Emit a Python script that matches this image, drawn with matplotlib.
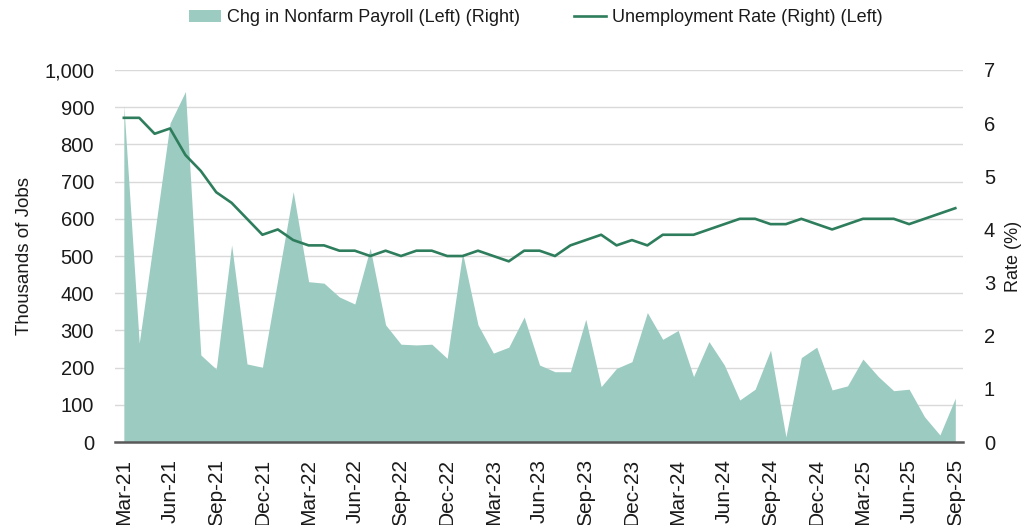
import matplotlib
matplotlib.use("Agg")
import matplotlib.pyplot as plt
from matplotlib.ticker import FuncFormatter
from matplotlib.patches import Patch
from matplotlib.lines import Line2D
import pandas as pd

months = list(pd.date_range("2021-03-01", periods=55, freq="MS").strftime("%b-%y"))

payroll = [905, 266, 560, 857, 942, 234, 196, 530, 210, 201,
           437, 673, 431, 427, 390, 371, 521, 315, 263, 261,
           263, 225, 508, 315, 239, 255, 336, 207, 189, 189,
           330, 149, 198, 216, 348, 276, 300, 176, 270, 207,
           113, 142, 247, 14, 227, 255, 140, 151, 223, 176,
           138, 142, 68, 19, 118]

unemployment = [6.1, 6.1, 5.8, 5.9, 5.4, 5.1, 4.7, 4.5, 4.2, 3.9,
                4.0, 3.8, 3.7, 3.7, 3.6, 3.6, 3.5, 3.6, 3.5, 3.6,
                3.6, 3.5, 3.5, 3.6, 3.5, 3.4, 3.6, 3.6, 3.5, 3.7,
                3.8, 3.9, 3.7, 3.8, 3.7, 3.9, 3.9, 3.9, 4.0, 4.1,
                4.2, 4.2, 4.1, 4.1, 4.2, 4.1, 4.0, 4.1, 4.2, 4.2,
                4.2, 4.1, 4.2, 4.3, 4.4]

left_ticks = [0, 100, 200, 300, 400, 500, 600, 700, 800, 900, 1000]
right_ticks = [0, 1, 2, 3, 4, 5, 6, 7]

fill_color = "#9CCBC1"
line_color = "#2E7D5C"
text_color = "#1a1a1a"

plt.rcParams["font.family"] = ["Liberation Sans", "DejaVu Sans"]

fig = plt.figure(figsize=(10.26, 5.25), dpi=100)
ax = fig.add_axes([0.112, 0.158, 0.8266, 0.7087])
x = list(range(len(months)))

ax.fill_between(x, payroll, 0, color=fill_color, linewidth=0, zorder=2)
ax.set_ylim(0, 1000)
ax.set_xlim(-0.58, 54.5)
ax.set_yticks(left_ticks)
ax.yaxis.set_major_formatter(FuncFormatter(lambda v, p: f"{int(v):,}"))
ax.grid(axis="y", color="#D9D9D9", linewidth=1.0, zorder=0)
ax.set_axisbelow(True)
for s in ["top", "right", "left"]:
    ax.spines[s].set_visible(False)
ax.spines["bottom"].set_color("#595959")
ax.spines["bottom"].set_linewidth(1.8)
ax.spines["bottom"].set_zorder(5)
ax.set_xticks(x[::3])
ax.set_xticklabels(months[::3], rotation=90, fontsize=15, color=text_color)
ax.tick_params(axis="x", length=0, pad=12)
ax.tick_params(axis="y", length=0, pad=15, labelsize=14.5, labelcolor=text_color)
ax.set_ylabel("Thousands of Jobs", fontsize=13.5, color=text_color, labelpad=8)

ax2 = ax.twinx()
ax2.plot(x, unemployment, color=line_color, linewidth=1.9, zorder=3)
ax2.set_ylim(0, 7)
ax2.set_yticks(right_ticks)
for s in ["top", "right", "left", "bottom"]:
    ax2.spines[s].set_visible(False)
ax2.tick_params(axis="y", length=0, pad=15, labelsize=14.5, labelcolor=text_color)
ax2.set_ylabel("Rate (%)", fontsize=13, color=text_color, rotation=90, labelpad=7)

handles = [Patch(facecolor=fill_color, edgecolor="none"),
           Line2D([0], [0], color=line_color, linewidth=1.9)]
labels = ["Chg in Nonfarm Payroll (Left) (Right)", "Unemployment Rate (Right) (Left)"]
fig.legend(handles, labels, loc="center", bbox_to_anchor=(0.522, 0.966), ncol=2,
           frameon=False, fontsize=13, handlelength=1.8, handletextpad=0.3,
           columnspacing=3.0, labelcolor=text_color)

fig.savefig("out.png", dpi=100)
